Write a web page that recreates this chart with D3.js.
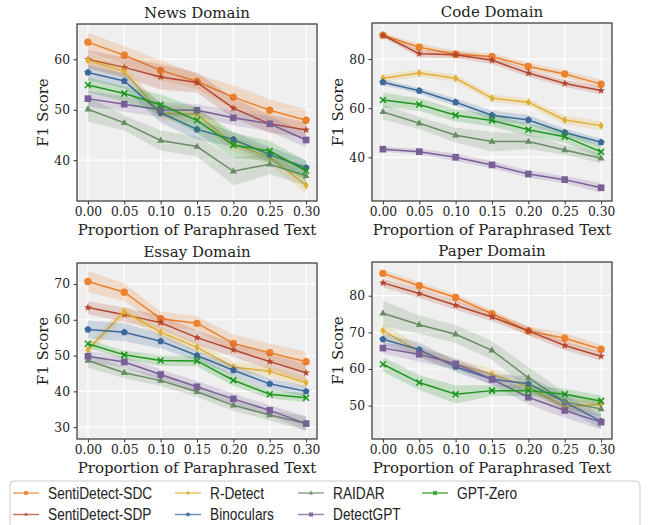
<!DOCTYPE html>
<html>
<head>
<meta charset="utf-8">
<script src="https://cdn.jsdelivr.net/npm/d3@7"></script>
<style>
  body { margin: 0; background: #fff; }
  text { font-family: 'DejaVu Serif', serif; fill: #222; }
  .legend text { font-family: 'Liberation Sans', Arial, sans-serif; }
</style>
</head>
<body>
<div id="chart"></div>
<script>
// x values shared by every panel
const proportions = [0.00, 0.05, 0.10, 0.15, 0.20, 0.25, 0.30]
const xTicks = [0.00, 0.05, 0.10, 0.15, 0.20, 0.25, 0.30]

// method names, in plotting / legend order
const methods = ['SentiDetect-SDC', 'SentiDetect-SDP', 'R-Detect', 'Binoculars', 'RAIDAR', 'DetectGPT', 'GPT-Zero']
const domainNames = ['News Domain', 'Code Domain', 'Essay Domain', 'Paper Domain']

// mean F1 per method (rows follow `methods`)
const newsMeans = [
  [63.4, 60.8, 57.8, 55.6, 52.5, 49.9, 47.9],
  [60.0, 58.4, 56.5, 55.4, 50.3, 47.2, 46.0],
  [59.8, 57.6, 49.3, 49.1, 43.2, 40.6, 35.0],
  [57.4, 55.7, 49.4, 46.1, 44.1, 41.1, 38.5],
  [50.1, 47.4, 43.9, 42.7, 37.8, 39.2, 36.9],
  [52.2, 51.1, 50.0, 49.9, 48.4, 47.2, 44.0],
  [54.9, 53.2, 51.0, 47.9, 43.0, 41.8, 37.9]
]
const codeMeans = [
  [89.7, 84.8, 82.0, 81.1, 77.0, 73.9, 69.8],
  [89.7, 82.2, 81.8, 79.5, 74.3, 70.1, 67.2],
  [72.2, 74.3, 72.2, 64.1, 62.4, 55.2, 52.9],
  [70.6, 67.1, 62.4, 57.1, 55.2, 50.1, 46.1],
  [58.5, 53.9, 49.0, 46.4, 46.4, 43.0, 39.6],
  [43.3, 42.3, 40.0, 36.9, 33.2, 30.9, 27.6],
  [63.3, 61.5, 57.1, 55.0, 51.2, 48.4, 42.2]
]
const essayMeans = [
  [70.7, 67.7, 60.3, 59.0, 53.4, 50.8, 48.3],
  [63.4, 61.4, 59.2, 55.0, 51.6, 48.3, 45.2],
  [51.6, 62.3, 56.5, 52.3, 46.8, 45.6, 42.4],
  [57.3, 56.5, 54.0, 50.0, 45.9, 42.1, 40.0],
  [48.6, 45.2, 43.0, 39.9, 36.1, 33.4, 31.0],
  [49.8, 48.2, 44.7, 41.3, 37.9, 34.7, 31.0],
  [53.3, 50.2, 48.6, 48.5, 43.1, 39.2, 38.2]
]
const paperMeans = [
  [86.1, 82.7, 79.5, 75.1, 70.4, 68.4, 65.4],
  [83.5, 80.6, 77.4, 74.2, 70.4, 66.4, 63.5],
  [70.5, 64.8, 61.3, 58.6, 55.1, 49.7, 50.4],
  [68.1, 65.3, 60.6, 57.2, 56.0, 51.0, 45.7],
  [75.2, 72.1, 69.5, 65.1, 57.6, 51.1, 49.1],
  [65.7, 64.0, 61.4, 57.2, 52.3, 48.7, 45.5],
  [61.3, 56.3, 53.1, 54.1, 54.1, 53.1, 51.3]
]

// spread (the shaded band) per method
const newsStd = [
  [1.9, 1.8, 2.0, 1.5, 2.3, 2.2, 2.2],
  [1.8, 2.0, 2.5, 2.0, 2.0, 1.8, 1.5],
  [1.2, 1.2, 1.5, 1.5, 1.5, 1.5, 1.5],
  [1.5, 1.5, 2.0, 2.0, 1.5, 1.5, 1.5],
  [2.5, 1.5, 2.0, 2.0, 2.8, 2.0, 2.0],
  [1.5, 1.5, 1.5, 1.2, 1.5, 1.5, 1.5],
  [1.5, 1.5, 2.0, 2.5, 2.5, 2.0, 2.0]
]
const codeStd = [
  [0.8, 1.5, 1.5, 1.2, 1.5, 1.5, 1.8],
  [1.0, 1.5, 1.5, 1.5, 1.5, 1.5, 1.5],
  [1.5, 1.5, 1.5, 1.5, 1.5, 1.8, 1.8],
  [1.2, 1.2, 1.5, 2.0, 2.0, 1.5, 1.5],
  [3.0, 2.5, 3.0, 4.0, 3.0, 2.0, 2.0],
  [1.0, 1.2, 1.5, 1.5, 1.5, 1.5, 2.0],
  [3.0, 2.5, 2.5, 2.5, 2.5, 2.5, 2.5]
]
const essayStd = [
  [3.0, 2.5, 2.0, 2.0, 2.5, 2.5, 2.8],
  [1.8, 2.0, 2.0, 2.0, 2.0, 2.2, 2.5],
  [1.5, 1.5, 1.5, 1.5, 1.5, 1.5, 1.5],
  [2.5, 2.5, 2.0, 1.5, 1.5, 1.5, 1.5],
  [2.0, 1.5, 1.5, 1.5, 1.5, 1.5, 2.0],
  [1.5, 1.5, 1.5, 1.5, 1.5, 1.5, 2.0],
  [1.2, 1.2, 1.5, 1.5, 1.5, 1.2, 1.2]
]
const paperStd = [
  [1.0, 1.0, 1.0, 1.0, 1.2, 1.5, 1.2],
  [1.2, 1.2, 1.2, 1.2, 1.2, 1.2, 1.2],
  [2.0, 1.5, 1.5, 1.5, 1.5, 1.5, 1.5],
  [1.5, 2.0, 1.5, 1.5, 2.0, 2.0, 2.0],
  [3.5, 2.5, 2.5, 2.5, 3.0, 2.5, 2.0],
  [1.5, 2.0, 1.5, 1.5, 2.0, 2.0, 2.0],
  [2.0, 2.0, 2.5, 1.5, 1.5, 1.5, 1.5]
]

const newsTicks = [40, 50, 60]
const codeTicks = [40, 60, 80]
const essayTicks = [30, 40, 50, 60, 70]
const paperTicks = [50, 60, 70, 80]

// styling
const colors = ['#eb822d', '#b4462d', '#e1af32', '#3c699b', '#698c64', '#785f96', '#1e961e']
const shapes = ['circle', 'star', 'thindiamond', 'pentagon', 'triangle', 'square', 'x']

const width = 650, height = 525

let svg = d3.select('#chart')
  .append('svg')
  .attr('width', width)
  .attr('height', height)

// panel boxes in pixels + y extent
const panels = [
  { title: domainNames[0], means: newsMeans, std: newsStd, ticks: newsTicks, yDom: [31.9, 67.0], x0: 77, x1: 317, y0: 24, y1: 201, ylabX: 43 },
  { title: domainNames[1], means: codeMeans, std: codeStd, ticks: codeTicks, yDom: [22.2, 94.7], x0: 372, x1: 612, y0: 23, y1: 201, ylabX: 338 },
  { title: domainNames[2], means: essayMeans, std: essayStd, ticks: essayTicks, yDom: [26.7, 75.85], x0: 77, x1: 317, y0: 263, y1: 439, ylabX: 43 },
  { title: domainNames[3], means: paperMeans, std: paperStd, ticks: paperTicks, yDom: [40.9, 89.2], x0: 372, x1: 612, y0: 262, y1: 439, ylabX: 338 }
]

let markerPath = (shape, r) => {
  let pts
  if (shape === 'circle') {
    return `M${r},0A${r},${r} 0 1,1 ${-r},0A${r},${r} 0 1,1 ${r},0Z`
  }
  if (shape === 'star') {
    pts = d3.range(10).map(i => {
      const a = -Math.PI / 2 + i * Math.PI / 5
      const rr = i % 2 ? r * 0.45 : r * 1.1
      return [rr * Math.cos(a), rr * Math.sin(a)]
    })
  } else if (shape === 'thindiamond') {
    pts = [[0, -r * 1.1], [r * 0.7, 0], [0, r * 1.1], [-r * 0.7, 0]]
  } else if (shape === 'pentagon') {
    pts = d3.range(5).map(i => {
      const a = -Math.PI / 2 + i * 2 * Math.PI / 5
      return [r * Math.cos(a), r * Math.sin(a)]
    })
  } else if (shape === 'triangle') {
    pts = [[0, -r * 1.05], [r * 0.95, r * 0.6], [-r * 0.95, r * 0.6]]
  } else if (shape === 'square') {
    const s = r * 0.9
    pts = [[-s, -s], [s, -s], [s, s], [-s, s]]
  } else {
    const s = r * 0.8
    return `M${-s},${-s}L${s},${s}M${-s},${s}L${s},${-s}`
  }
  return 'M' + pts.map(p => p.join(',')).join('L') + 'Z'
}

let drawMarker = (g, shape, color, cx, cy, r) => {
  const p = g.append('path')
    .attr('d', markerPath(shape, r))
    .attr('transform', `translate(${cx},${cy})`)
  if (shape === 'x') {
    p.attr('fill', 'none').attr('stroke', color).attr('stroke-width', 1.6)
  } else {
    p.attr('fill', color)
  }
}

panels.forEach(pan => {
  const x = d3.scaleLinear().domain([-0.015, 0.315]).range([pan.x0, pan.x1])
  const y = d3.scaleLinear().domain(pan.yDom).range([pan.y1, pan.y0])
  const g = svg.append('g')

  g.append('rect')
    .attr('x', pan.x0).attr('y', pan.y0)
    .attr('width', pan.x1 - pan.x0).attr('height', pan.y1 - pan.y0)
    .attr('fill', '#efefef')

  // grid
  g.selectAll('.gx').data(xTicks).enter().append('line')
    .attr('x1', d => x(d)).attr('x2', d => x(d))
    .attr('y1', pan.y0).attr('y2', pan.y1)
    .attr('stroke', '#fff').attr('stroke-width', 1.2)
  g.selectAll('.gy').data(pan.ticks).enter().append('line')
    .attr('x1', pan.x0).attr('x2', pan.x1)
    .attr('y1', d => y(d)).attr('y2', d => y(d))
    .attr('stroke', '#fff').attr('stroke-width', 1.2)

  const area = d3.area()
    .x((d, i) => x(proportions[i]))
    .y0(d => y(d[0] - d[1]))
    .y1(d => y(d[0] + d[1]))
  const line = d3.line()
    .x((d, i) => x(proportions[i]))
    .y(d => y(d))

  pan.means.forEach((vals, m) => {
    const band = vals.map((v, i) => [v, pan.std[m][i]])
    g.append('path')
      .attr('d', area(band))
      .attr('fill', colors[m])
      .attr('fill-opacity', 0.2)
    g.append('path')
      .attr('d', line(vals))
      .attr('fill', 'none')
      .attr('stroke', colors[m])
      .attr('stroke-width', 1.5)
    vals.forEach((v, i) => drawMarker(g, shapes[m], colors[m], x(proportions[i]), y(v), 3.7))
  })

  // frame
  g.append('rect')
    .attr('x', pan.x0).attr('y', pan.y0)
    .attr('width', pan.x1 - pan.x0).attr('height', pan.y1 - pan.y0)
    .attr('fill', 'none').attr('stroke', '#333').attr('stroke-width', 1.2)

  // axes
  const xa = g.append('g')
    .attr('transform', `translate(0,${pan.y1})`)
    .call(d3.axisBottom(x).tickValues(xTicks).tickFormat(d3.format('.2f')).tickSize(3.5).tickPadding(3))
  const ya = g.append('g')
    .attr('transform', `translate(${pan.x0},0)`)
    .call(d3.axisLeft(y).tickValues(pan.ticks).tickFormat(d3.format('d')).tickSize(3.5).tickPadding(3.5))
  ;[xa, ya].forEach(a => {
    a.select('.domain').remove()
    a.selectAll('line').attr('stroke', '#333')
    a.selectAll('text').attr('font-family', 'DejaVu Serif').attr('font-size', 12.3).attr('fill', '#222')
  })

  g.append('text')
    .attr('x', (pan.x0 + pan.x1) / 2).attr('y', pan.y0 - 6)
    .attr('text-anchor', 'middle').attr('font-size', 15)
    .text(pan.title)
  g.append('text')
    .attr('x', (pan.x0 + pan.x1) / 2).attr('y', pan.y1 + 34)
    .attr('text-anchor', 'middle').attr('font-size', 15)
    .text('Proportion of Paraphrased Text')
  g.append('text')
    .attr('transform', `translate(${pan.ylabX},${(pan.y0 + pan.y1) / 2}) rotate(-90)`)
    .attr('text-anchor', 'middle').attr('dominant-baseline', 'central').attr('font-size', 15)
    .text('F1 Score')
})

// legend
const leg = svg.append('g').attr('class', 'legend')
leg.append('rect')
  .attr('x', 10).attr('y', 481).attr('width', 630).attr('height', 52).attr('rx', 4)
  .attr('fill', '#fff').attr('stroke', '#ccc').attr('stroke-width', 1)

const colX = [13, 175, 298, 422]
const rowY = [493, 514.5]
methods.forEach((name, m) => {
  const cx = colX[Math.floor(m / 2)], cy = rowY[m % 2]
  leg.append('line')
    .attr('x1', cx).attr('x2', cx + 26).attr('y1', cy).attr('y2', cy)
    .attr('stroke', colors[m]).attr('stroke-width', 1.5).attr('stroke-opacity', 0.75)
  const mg = leg.append('g').attr('opacity', 0.85)
  drawMarker(mg, shapes[m], colors[m], cx + 13, cy, 2.3)
  // narrow face is not installed, so squeeze the sans horizontally
  leg.append('text')
    .attr('transform', `translate(${cx + 35},${cy}) scale(0.83,1)`)
    .attr('dominant-baseline', 'central')
    .attr('font-size', 16.5)
    .text(name)
})
</script>
</body>
</html>
